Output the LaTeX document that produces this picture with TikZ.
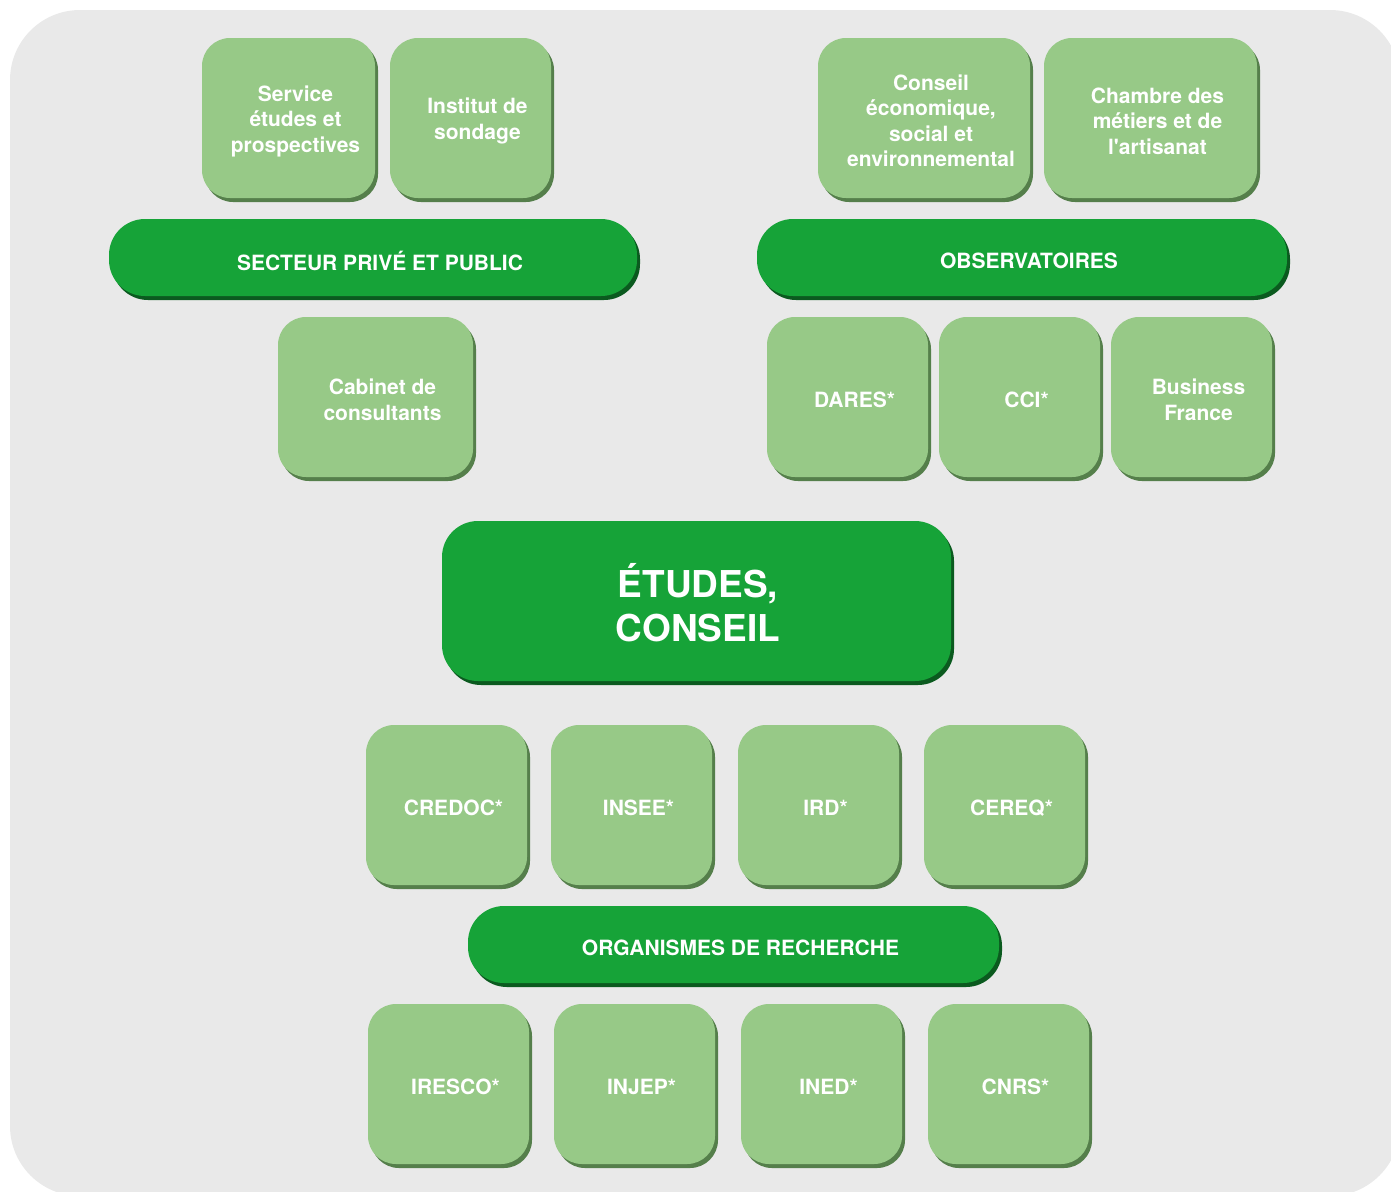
\documentclass[tikz,border=0pt]{standalone}
\usepackage{fontspec}
\setmainfont{TeX Gyre Heros}
\definecolor{backgray}{HTML}{E9E9E9}
\definecolor{palegreen}{HTML}{97C987}
\definecolor{paleshade}{HTML}{557F4B}
\definecolor{deepgreen}{HTML}{16A338}
\definecolor{deepshade}{HTML}{0B5A1F}
\newcommand\tilefont{\fontsize{21}{25.5}\selectfont\bfseries}
\newcommand\bigfont{\fontsize{37}{44}\selectfont\bfseries}
\tikzset{
x=1pt, y=-1pt, % one unit is one pixel, y runs downwards
box/.style={rectangle, rounded corners=28pt, text=white, font=\tilefont, align=center,
  minimum width=161pt, minimum height=160pt, inner sep=0pt}, % common shape, placed at its text
tile/.style={box,
  preaction={fill=paleshade, transform canvas={xshift=-4pt, yshift=-1pt}}, % rim
  preaction={fill=palegreen, transform canvas={xshift=-7pt, yshift=3pt}}}, % light boxes
bar/.style={box, rounded corners=36pt, minimum height=77pt,
  preaction={fill=deepshade, transform canvas={xshift=-4pt, yshift=-1pt}},
  preaction={fill=deepgreen, transform canvas={xshift=-7pt, yshift=3pt}}}, % dark headings
hub/.style={box, rounded corners=36pt, font=\bigfont,
  preaction={fill=deepshade, transform canvas={xshift=1.5pt, yshift=-2pt}},
  preaction={fill=deepgreen, transform canvas={xshift=-1.5pt, yshift=2pt}}}, % centre box
}
\begin{document}
\begin{tikzpicture}
    \useasboundingbox (0,0) rectangle (1391,1191);
    \clip (0,0) rectangle (1391,1191);
    \fill[backgray, rounded corners=70pt] (10,10) rectangle (1400,1196);

    % secteur prive et public
    \node[tile, minimum width=173pt] (service) at (295.5,121) {Service\\études et\\prospectives};
    \node[tile] (sondage) at (477.5,121) {Institut de\\sondage};
    \node[bar, minimum width=528pt] (secteur) at (380,260.5) {SECTEUR PRIVÉ ET PUBLIC};
    \node[tile, minimum width=195pt] (cabinet) at (382.5,400) {Cabinet de\\consultants};

    % observatoires
    \node[tile, minimum width=212pt] (cese) at (931,121) {Conseil\\économique,\\social et\\environnemental};
    \node[tile, minimum width=213pt] (cma) at (1157.5,121) {Chambre des\\métiers et de\\l\textquotesingle artisanat};
    \node[bar, minimum width=530pt] (observ) at (1029,260.5) {OBSERVATOIRES};
    \node[tile] (dares) at (854.5,400) {DARES*};
    \node[tile] (cci) at (1026.5,400) {CCI*};
    \node[tile] (bfrance) at (1198.5,400) {Business\\France};

    % centre
    \node[hub, minimum width=509pt] (etudes) at (698,603) {ÉTUDES,\\CONSEIL};

    % organismes de recherche
    \node[tile] (credoc) at (453.5,808) {CREDOC*};
    \node[tile] (insee) at (638.5,808) {INSEE*};
    \node[tile] (ird) at (825.5,808) {IRD*};
    \node[tile] (cereq) at (1011.5,808) {CEREQ*};
    \node[bar, minimum width=531pt] (organismes) at (740.5,947.5) {ORGANISMES DE RECHERCHE};
    \node[tile] (iresco) at (455.5,1087) {IRESCO*};
    \node[tile] (injep) at (641.5,1087) {INJEP*};
    \node[tile] (ined) at (828.5,1087) {INED*};
    \node[tile] (cnrs) at (1015.5,1087) {CNRS*};
\end{tikzpicture}
\end{document}
